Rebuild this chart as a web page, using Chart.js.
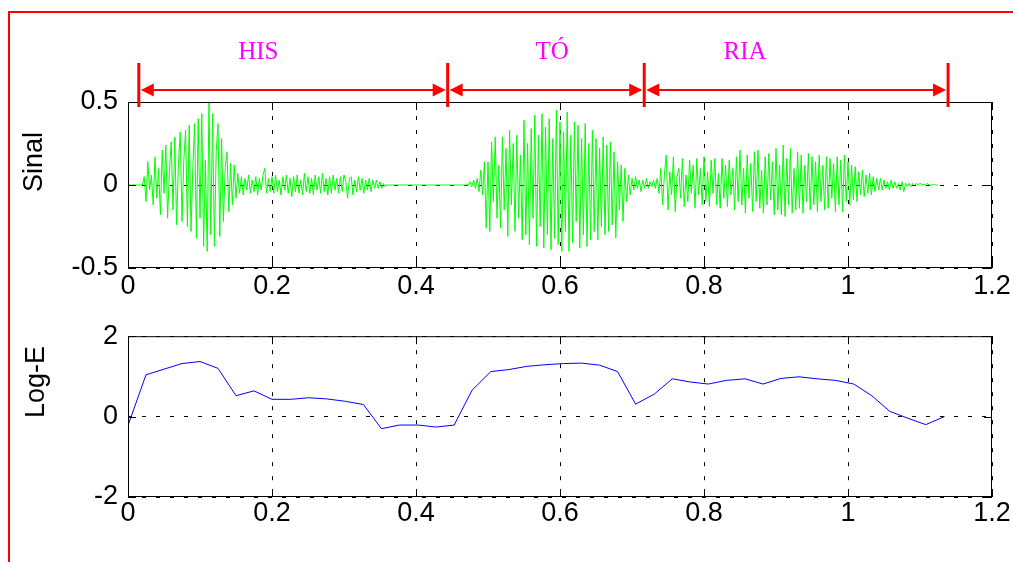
<!DOCTYPE html>
<html lang="pt">
<head>
<meta charset="UTF-8">
<title>Sinal e Log-E</title>
<script src="https://cdn.jsdelivr.net/npm/chart.js"></script>
<style>
  html, body { margin: 0; padding: 0; background: #fff; }
  body { width: 1013px; height: 562px; position: relative; overflow: hidden; }
  .frame { position: absolute; left: 8px; top: 11px; width: 1100px; height: 700px;
           border-left: 2px solid #ff0000; border-top: 2px solid #ff0000; }
  canvas { position: absolute; left: 0; }
  #sinalChart { top: 0; }
  #logeChart { top: 310px; }
</style>
</head>
<body>
<div class="frame"></div>
<canvas id="sinalChart" width="1013" height="310"></canvas>
<canvas id="logeChart" width="1013" height="252"></canvas>

<script>
// axis ticks
const X_TICKS = [0, 0.2, 0.4, 0.6, 0.8, 1, 1.2];
const SINAL_TICKS = [-0.5, 0, 0.5];
const LOGE_TICKS = [-2, 0, 2];

// speech waveform, one value every 2.5 ms (0.05 s per row)
const SIGNAL_STEP = 0.0025;
const SIGNAL = [
  0, 0, 0, 0, 0, 0, 0, 0, 0, 0.05, -0.10, 0.14, -0.03, 0.06, -0.12, 0.17, -0.08, 0.10, -0.18, 0.21,
  -0.05, 0.24, -0.20, 0.08, 0.26, -0.15, 0.29, -0.24, 0.12, 0.32, -0.22, 0.15, 0.33, -0.25, 0.36, -0.28, 0.10, 0.37, -0.32, 0.40,
  -0.20, 0.43, -0.37, 0.15, -0.40, 0.50, -0.30, 0.43, -0.37, 0.20, 0.37, -0.31, 0.28, -0.22, 0.10, 0.20, -0.16, 0.13, -0.12, 0.12,
  -0.08, 0.07, -0.05, 0.05, -0.06, 0.04, -0.03, 0.06, -0.05, 0.03, -0.04, 0.05, -0.06, 0.04, -0.03, 0.06, 0.10, -0.05, 0.04, -0.04,
  0.05, -0.05, 0.06, -0.04, 0.03, -0.06, 0.05, -0.03, 0.06, -0.05, 0.04, -0.07, 0.05, -0.04, 0.06, -0.05, 0.03, -0.06, 0.07, -0.04,
  0.05, -0.05, 0.04, -0.06, 0.06, -0.03, 0.05, -0.05, 0.07, -0.04, 0.04, -0.06, 0.05, -0.05, 0.06, -0.03, 0.04, -0.05, 0.05, -0.04,
  0.06, 0.02, -0.08, 0.04, 0.05, -0.06, 0.03, -0.04, 0.05, -0.03, 0.04, -0.05, 0.03, -0.03, 0.04, -0.04, 0.03, -0.02, 0.03, -0.02,
  0.02, -0.02, 0.01, -0.01, 0, 0, 0, 0, 0, 0, 0, 0, 0, 0, 0, 0, 0, 0, 0, 0,
  0, 0, 0, 0, 0, 0, 0, 0, 0, 0, 0, 0, 0, 0, 0, 0, 0, 0, 0, 0,
  0, 0, 0, 0, 0, 0, 0, 0, 0, 0, 0.02, -0.01, 0.03, -0.02, 0.04, -0.04, 0.09, -0.06, 0.14, -0.26,
  0.14, -0.28, 0.26, -0.10, 0.29, -0.20, 0.12, -0.26, 0.29, -0.15, 0.22, -0.31, 0.33, -0.12, 0.25, -0.28, 0.30, -0.20, 0.18, -0.33,
  0.39, -0.30, 0.25, -0.36, 0.34, -0.20, 0.42, -0.37, 0.30, -0.25, 0.43, -0.38, 0.35, -0.30, 0.40, -0.39, 0.28, -0.32, 0.45, -0.36,
  0.38, -0.40, 0.32, -0.28, 0.44, -0.40, 0.30, -0.35, 0.38, -0.22, 0.36, -0.38, 0.28, -0.30, 0.37, -0.37, 0.25, -0.33, 0.33, -0.28,
  0.28, -0.33, 0.22, -0.25, 0.29, -0.30, 0.24, -0.28, 0.26, -0.24, 0.20, -0.32, 0.14, -0.15, 0.12, -0.22, 0.10, -0.10, 0.06, -0.06,
  0.04, -0.03, 0.05, -0.02, 0.03, -0.04, 0.03, -0.02, 0.04, -0.02, 0.02, -0.01, 0.03, -0.02, 0.04, -0.05, 0.10, -0.12, 0.06, 0.18,
  -0.15, 0.08, -0.06, 0.17, -0.16, 0.05, 0.10, -0.08, 0.16, -0.13, 0.06, -0.10, 0.15, -0.05, 0.12, -0.14, 0.16, -0.06, 0.10, -0.12,
  0.17, -0.10, 0.08, -0.13, 0.15, -0.05, 0.16, -0.12, 0.07, -0.14, 0.16, -0.08, 0.12, -0.13, 0.15, -0.06, 0.10, -0.15, 0.17, -0.10,
  0.21, -0.12, 0.10, -0.17, 0.18, -0.08, 0.13, -0.16, 0.20, -0.10, 0.21, -0.14, 0.09, -0.17, 0.17, -0.12, 0.19, -0.09, 0.14, -0.18,
  0.22, -0.15, 0.12, -0.18, 0.24, -0.19, 0.16, -0.12, 0.22, -0.17, 0.10, -0.15, 0.20, -0.14, 0.18, -0.17, 0.12, -0.10, 0.19, -0.15,
  0.17, -0.12, 0.14, -0.16, 0.18, -0.10, 0.12, -0.15, 0.17, -0.14, 0.16, -0.08, 0.13, -0.16, 0.17, -0.12, 0.15, -0.16, 0.18, -0.10,
  0.14, -0.12, 0.12, -0.09, 0.11, -0.10, 0.08, -0.06, 0.09, -0.07, 0.06, -0.05, 0.07, -0.06, 0.05, -0.04, 0.04, -0.03, 0.04, -0.03,
  0.03, -0.02, 0.02, -0.03, 0.03, -0.02, 0.02, -0.02, 0.01, -0.03, 0.02, -0.04, 0.01, -0.01, 0.01, -0.01, 0.01, 0, 0.01, 0,
  0.01, 0, 0.005, 0, 0.01, 0, 0, 0, 0.005, 0, 0
];

// log energy per frame
const FRAME_T = [
  0, 0.025, 0.05, 0.075, 0.1, 0.125, 0.15, 0.175, 0.2, 0.226,
  0.251, 0.276, 0.302, 0.327, 0.352, 0.377, 0.403, 0.428, 0.453, 0.478,
  0.504, 0.529, 0.554, 0.579, 0.605, 0.63, 0.655, 0.68, 0.705, 0.731,
  0.756, 0.781, 0.806, 0.831, 0.857, 0.882, 0.907, 0.932, 0.957, 0.983,
  1.008, 1.033, 1.058, 1.083, 1.108, 1.134
];
const LOG_E = [
  -0.22, 1.04, 1.18, 1.32, 1.37, 1.20, 0.52, 0.64, 0.43, 0.43,
  0.47, 0.44, 0.38, 0.30, -0.30, -0.21, -0.21, -0.26, -0.21, 0.66,
  1.12, 1.17, 1.25, 1.29, 1.32, 1.33, 1.28, 1.12, 0.31, 0.56,
  0.94, 0.86, 0.81, 0.90, 0.94, 0.81, 0.95, 0.99, 0.94, 0.90,
  0.81, 0.52, 0.13, -0.04, -0.20, 0.00
];

// syllable segmentation (seconds)
const SYLLABLES = ['HIS', 'TÓ', 'RIA'];
const SYLLABLE_BOUNDS = [0.015, 0.444, 0.717, 1.139];
const SYLLABLE_LABEL_T = [0.181, 0.589, 0.857];

const FONT_FAMILY = '"Liberation Sans", Arial, Helvetica, sans-serif';
const TICK_FONT = { family: FONT_FAMILY, size: 27 };

// black box with inward ticks, like the old matlab axes
const boxPlugin = {
  id: 'box',
  afterDraw(chart) {
    const { ctx, chartArea: a, scales } = chart;
    ctx.save();
    ctx.setLineDash([]);
    ctx.strokeStyle = '#000';
    ctx.lineWidth = 1;
    ctx.strokeRect(a.left + 0.5, a.top + 0.5, a.right - a.left - 1, a.bottom - a.top - 1);
    ctx.beginPath();
    scales.x.ticks.forEach(t => {
      const x = Math.round(scales.x.getPixelForValue(t.value)) + 0.5;
      ctx.moveTo(x, a.bottom); ctx.lineTo(x, a.bottom - 8);
      ctx.moveTo(x, a.top); ctx.lineTo(x, a.top + 8);
    });
    scales.y.ticks.forEach(t => {
      const y = Math.round(scales.y.getPixelForValue(t.value)) + 0.5;
      ctx.moveTo(a.left, y); ctx.lineTo(a.left + 8, y);
      ctx.moveTo(a.right, y); ctx.lineTo(a.right - 8, y);
    });
    ctx.stroke();
    ctx.restore();
  }
};

function yTitle(text, x, y) {
  return {
    id: 'yTitle',
    afterDraw(chart) {
      const ctx = chart.ctx;
      ctx.save();
      ctx.translate(x, y);
      ctx.rotate(-Math.PI / 2);
      ctx.font = '27px ' + FONT_FAMILY;
      ctx.fillStyle = '#000';
      ctx.textAlign = 'center';
      ctx.textBaseline = 'middle';
      ctx.fillText(text, 0, 0);
      ctx.restore();
    }
  };
}

// red arrows + magenta syllable names above the waveform
const syllablePlugin = {
  id: 'syllables',
  afterDraw(chart) {
    const { ctx } = chart;
    const xs = chart.scales.x;
    const px = SYLLABLE_BOUNDS.map(t => xs.getPixelForValue(t));
    const yArrow = 90;

    function head(tip, dir) {
      ctx.beginPath();
      ctx.moveTo(tip, yArrow);
      ctx.lineTo(tip + dir * 13, yArrow - 6.5);
      ctx.lineTo(tip + dir * 13, yArrow + 6.5);
      ctx.closePath();
      ctx.fill();
    }

    ctx.save();
    ctx.setLineDash([]);
    ctx.strokeStyle = '#ff0000';
    ctx.fillStyle = '#ff0000';
    ctx.lineWidth = 3;
    ctx.beginPath();
    px.forEach(x => { ctx.moveTo(x, 63); ctx.lineTo(x, 107); });
    ctx.stroke();

    ctx.lineWidth = 2;
    for (let i = 0; i < SYLLABLES.length; i++) {
      const a = px[i] + 2, b = px[i + 1] - 2;
      ctx.beginPath();
      ctx.moveTo(a + 8, yArrow);
      ctx.lineTo(b - 8, yArrow);
      ctx.stroke();
      head(a, 1);
      head(b, -1);
    }

    ctx.fillStyle = '#ff00ff';
    ctx.font = '25px "Liberation Serif", "Times New Roman", serif';
    ctx.textAlign = 'center';
    ctx.textBaseline = 'alphabetic';
    SYLLABLES.forEach((s, i) => ctx.fillText(s, xs.getPixelForValue(SYLLABLE_LABEL_T[i]), 59));
    ctx.restore();
  }
};

function makeChart(id, points, color, yTicks, padTop, xAxisHeight, xTickPad, extraPlugins) {
  const grid = { color: '#000', lineWidth: 1, drawTicks: false, tickLength: 0 };
  const border = { display: false, dash: [4, 10] };
  return new Chart(document.getElementById(id), {
    type: 'line',
    data: {
      datasets: [{
        data: points,
        borderColor: color,
        borderWidth: 1,
        pointRadius: 0,
        tension: 0,
        fill: false
      }]
    },
    options: {
      responsive: false,
      animation: false,
      events: [],
      layout: { padding: { left: 0, right: 21, top: padTop, bottom: 0 } },
      plugins: { legend: { display: false }, tooltip: { enabled: false } },
      scales: {
        x: {
          type: 'linear',
          min: X_TICKS[0],
          max: X_TICKS[X_TICKS.length - 1],
          z: 1,
          afterBuildTicks: s => { s.ticks = X_TICKS.map(v => ({ value: v })); },
          afterFit: s => { s.height = xAxisHeight; },
          grid: grid,
          border: border,
          ticks: { color: '#000', font: TICK_FONT, padding: xTickPad, maxRotation: 0, autoSkip: false,
                   callback: v => String(v) }
        },
        y: {
          min: yTicks[0],
          max: yTicks[yTicks.length - 1],
          z: 1,
          afterBuildTicks: s => { s.ticks = yTicks.map(v => ({ value: v })); },
          afterFit: s => { s.width = 128; },
          grid: grid,
          border: border,
          ticks: { color: '#000', font: TICK_FONT, padding: 10, callback: v => String(v) }
        }
      }
    },
    plugins: [boxPlugin].concat(extraPlugins)
  });
}

const sinalPoints = SIGNAL.map((v, i) => ({ x: i * SIGNAL_STEP, y: v }));
const logePoints = FRAME_T.map((t, i) => ({ x: t, y: LOG_E[i] }));

makeChart('sinalChart', sinalPoints, '#00ff00', SINAL_TICKS, 102, 42, 2,
  [syllablePlugin, yTitle('Sinal', 35, 162)]);
makeChart('logeChart', logePoints, '#0000ff', LOGE_TICKS, 21, 65, 0,
  [yTitle('Log-E', 37, 72)]);
</script>
</body>
</html>
